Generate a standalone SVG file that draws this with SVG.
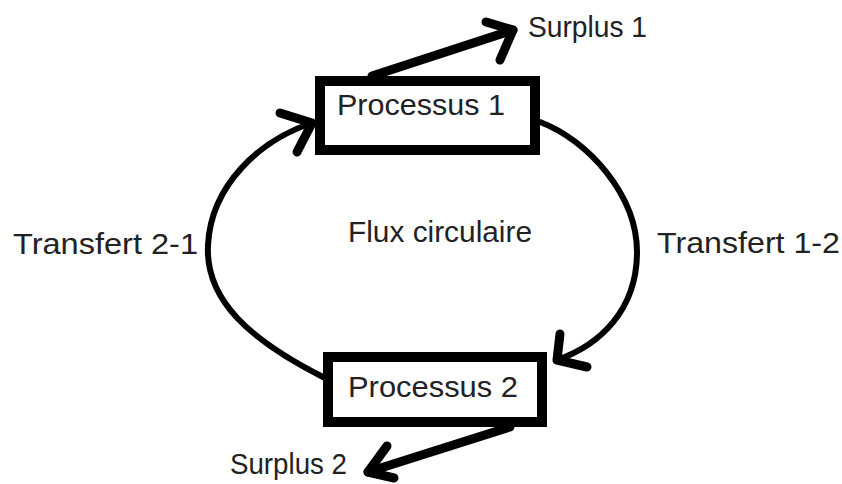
<svg xmlns="http://www.w3.org/2000/svg" width="842" height="484" viewBox="0 0 842 484">
<style>
.t{font-family:"Liberation Sans",Arial,sans-serif;font-size:29px;fill:#222}
.box{fill:#fff;stroke:#000;stroke-width:10}
.c{fill:none;stroke:#000;stroke-width:6;stroke-linecap:round}
.a{fill:none;stroke:#000;stroke-width:9;stroke-linecap:round;stroke-linejoin:round}
</style>
<rect width="842" height="484" fill="#fff"/>
<g id="connectors">
<path class="c" d="M323,377 C250,340 205,300 208,245 C211,185 260,140 312,123"/>
<path class="a" d="M280,113 L312,123 L297,152"/>
<path class="c" d="M540,122 C588,140 637,195 637,252 C637,310 600,345 557,360"/>
<path class="a" d="M560,334 L557,360 L587,367"/>
<path class="a" d="M372,76 L513,30"/>
<path class="a" d="M486,22 L513,30 L500,60"/>
<path class="a" d="M510,427 L368,472"/>
<path class="a" d="M387,446 L368,472 L394,478"/>
</g>
<g id="processus1">
<rect class="box" x="320" y="81" width="215" height="69"/>
<text class="t" x="337" y="115" textLength="168" lengthAdjust="spacingAndGlyphs">Processus 1</text>
</g>
<g id="processus2">
<rect class="box" x="328" y="357" width="214" height="65"/>
<text class="t" x="348" y="397" textLength="170" lengthAdjust="spacingAndGlyphs">Processus 2</text>
</g>
<g id="surplus1">
<text class="t" x="528" y="37" textLength="119" lengthAdjust="spacingAndGlyphs">Surplus 1</text>
</g>
<g id="surplus2">
<text class="t" x="230" y="474" textLength="117" lengthAdjust="spacingAndGlyphs">Surplus 2</text>
</g>
<g id="labels">
<text class="t" x="13" y="254" textLength="185" lengthAdjust="spacingAndGlyphs">Transfert 2-1</text>
<text class="t" x="657" y="253" textLength="183" lengthAdjust="spacingAndGlyphs">Transfert 1-2</text>
<text class="t" x="348" y="242" font-size="27" textLength="184" lengthAdjust="spacingAndGlyphs">Flux circulaire</text>
</g>
</svg>
